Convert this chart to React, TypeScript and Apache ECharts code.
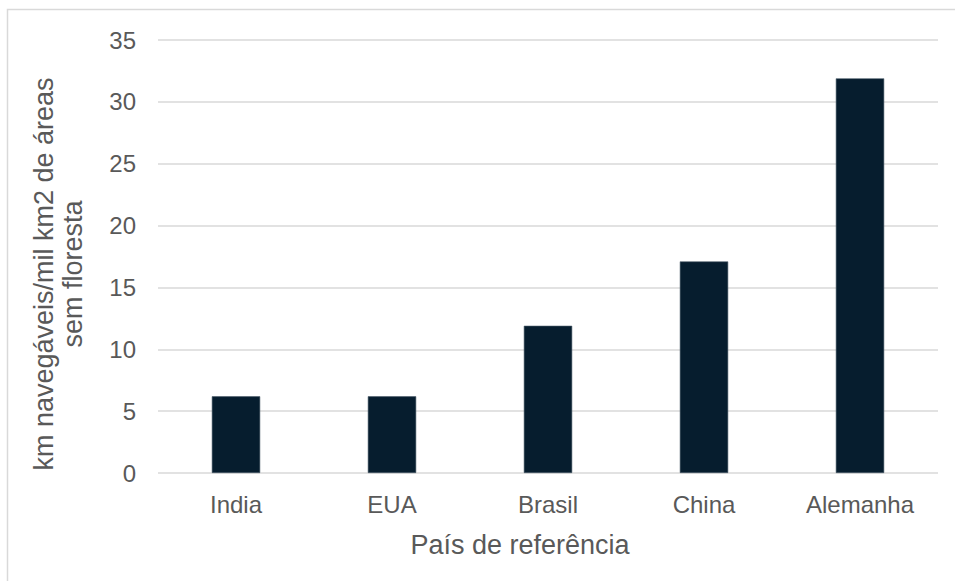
import React, { useEffect, useRef } from "react";
import * as echarts from "echarts";

const categories = ["India", "EUA", "Brasil", "China", "Alemanha"];
const values = [6.2, 6.2, 11.9, 17.1, 31.9];
const yTicks = [0, 5, 10, 15, 20, 25, 30, 35];
const yTitleLines = ["km navegáveis/mil km2 de áreas", "sem floresta"];
const xTitle = "País de referência";

export default function App() {
  const ref = useRef<HTMLDivElement>(null);
  useEffect(() => {
    if (!ref.current) return;
    const chart = echarts.init(ref.current, null, { renderer: "svg" });
    const font = "'Liberation Sans', Arial, sans-serif";
    chart.setOption({
      animation: false,
      backgroundColor: "#ffffff",
      grid: { left: 158, right: 17, top: 40, bottom: 108, containLabel: false },
      xAxis: {
        type: "category",
        data: categories,
        axisLine: { show: false },
        axisTick: { show: false },
        axisLabel: { color: "#595959", fontSize: 24, fontFamily: font, margin: 19 },
      },
      yAxis: {
        type: "value",
        min: yTicks[0],
        max: yTicks[yTicks.length - 1],
        interval: 5,
        axisLine: { show: false },
        axisTick: { show: false },
        axisLabel: { color: "#595959", fontSize: 24, fontFamily: font, margin: 22 },
        splitLine: { lineStyle: { color: "#d9d9d9", width: 1.5 } },
      },
      series: [
        {
          type: "bar",
          data: values,
          barWidth: "31%",
          itemStyle: { color: "#061d2e", borderColor: "#4a5a68", borderWidth: 0.6 },
        },
      ],
      graphic: [
        {
          type: "rect",
          shape: { x: 7.5, y: 9.5, width: 960, height: 600 },
          style: { fill: "none", stroke: "#d9d9d9", lineWidth: 1.5 },
          silent: true,
          z: -1,
        },
        {
          type: "text",
          x: 58,
          y: 274,
          rotation: Math.PI / 2,
          style: {
            text: yTitleLines.join("\n"),
            fill: "#595959",
            font: `27px ${font}`,
            align: "center",
            verticalAlign: "middle",
            lineHeight: 29,
          },
        },
        {
          type: "text",
          x: 520,
          y: 545,
          style: {
            text: xTitle,
            fill: "#595959",
            font: `27px ${font}`,
            align: "center",
            verticalAlign: "middle",
          },
        },
      ],
    });
    return () => chart.dispose();
  }, []);
  return (
    <div
      ref={ref}
      style={{ position: "fixed", left: 0, top: 0, width: 955, height: 581 }}
    />
  );
}
